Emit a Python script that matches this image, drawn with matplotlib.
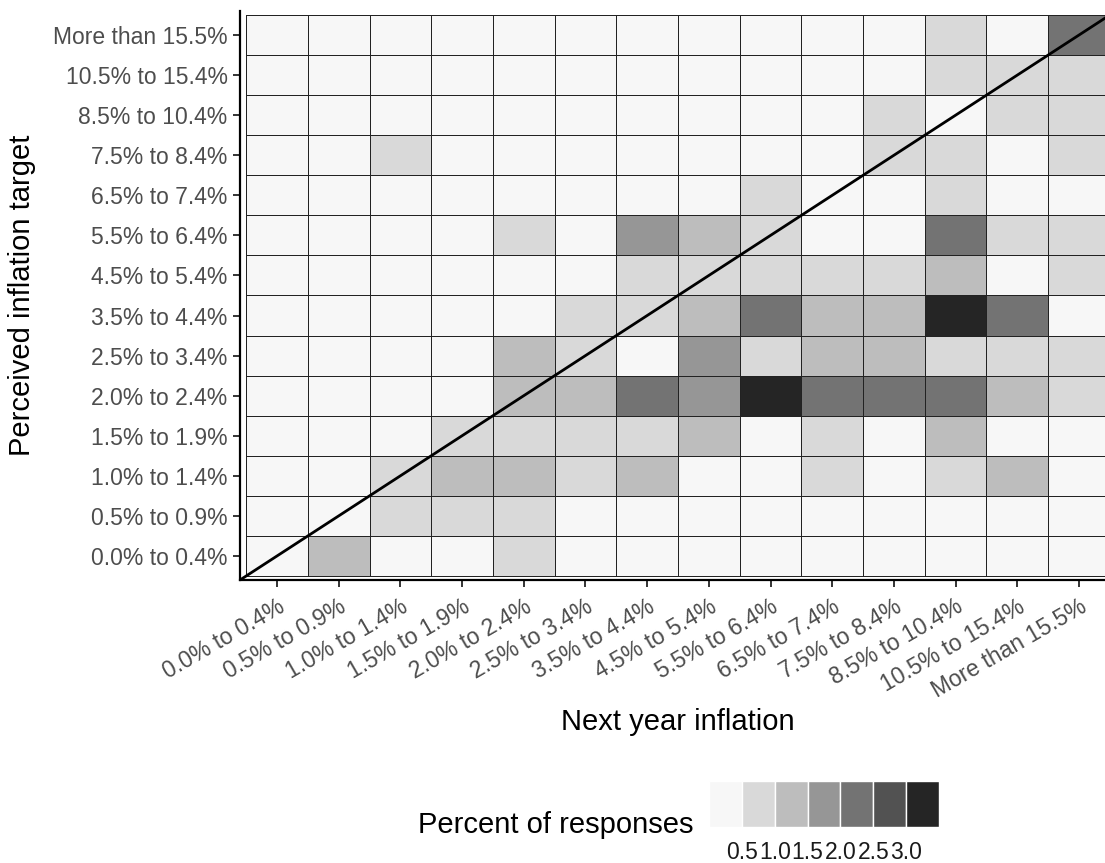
import numpy as np
import matplotlib
matplotlib.use("Agg")
import matplotlib.pyplot as plt
from matplotlib.colors import ListedColormap, BoundaryNorm

plt.rcParams['font.family'] = ['Liberation Sans', 'DejaVu Sans']

bins = ["0.0% to 0.4%", "0.5% to 0.9%", "1.0% to 1.4%", "1.5% to 1.9%",
        "2.0% to 2.4%", "2.5% to 3.4%", "3.5% to 4.4%", "4.5% to 5.4%",
        "5.5% to 6.4%", "6.5% to 7.4%", "7.5% to 8.4%", "8.5% to 10.4%",
        "10.5% to 15.4%", "More than 15.5%"]

# percent of responses, rows = perceived target (bottom -> top), cols = next year inflation
pct = [
    [0.0, 1.2, 0.0, 0.0, 0.7, 0.0, 0.0, 0.0, 0.0, 0.0, 0.0, 0.0, 0.0, 0.0],  # 0.0-0.4
    [0.0, 0.0, 0.7, 0.7, 0.7, 0.0, 0.0, 0.0, 0.0, 0.0, 0.0, 0.0, 0.0, 0.0],  # 0.5-0.9
    [0.0, 0.0, 0.7, 1.2, 1.2, 0.7, 1.2, 0.0, 0.0, 0.7, 0.0, 0.7, 1.2, 0.0],  # 1.0-1.4
    [0.0, 0.0, 0.0, 0.7, 0.7, 0.7, 0.7, 1.2, 0.0, 0.7, 0.0, 1.2, 0.0, 0.0],  # 1.5-1.9
    [0.0, 0.0, 0.0, 0.0, 1.2, 1.2, 2.2, 1.7, 3.2, 2.2, 2.2, 2.2, 1.2, 0.7],  # 2.0-2.4
    [0.0, 0.0, 0.0, 0.0, 1.2, 0.7, 0.0, 1.7, 0.7, 1.2, 1.2, 0.7, 0.7, 0.7],  # 2.5-3.4
    [0.0, 0.0, 0.0, 0.0, 0.0, 0.7, 0.7, 1.2, 2.2, 1.2, 1.2, 3.2, 2.2, 0.0],  # 3.5-4.4
    [0.0, 0.0, 0.0, 0.0, 0.0, 0.0, 0.7, 0.7, 0.7, 0.7, 0.7, 1.2, 0.0, 0.7],  # 4.5-5.4
    [0.0, 0.0, 0.0, 0.0, 0.7, 0.0, 1.7, 1.2, 0.7, 0.0, 0.0, 2.2, 0.7, 0.7],  # 5.5-6.4
    [0.0, 0.0, 0.0, 0.0, 0.0, 0.0, 0.0, 0.0, 0.7, 0.0, 0.0, 0.7, 0.0, 0.0],  # 6.5-7.4
    [0.0, 0.0, 0.7, 0.0, 0.0, 0.0, 0.0, 0.0, 0.0, 0.0, 0.7, 0.7, 0.0, 0.7],  # 7.5-8.4
    [0.0, 0.0, 0.0, 0.0, 0.0, 0.0, 0.0, 0.0, 0.0, 0.0, 0.7, 0.0, 0.7, 0.7],  # 8.5-10.4
    [0.0, 0.0, 0.0, 0.0, 0.0, 0.0, 0.0, 0.0, 0.0, 0.0, 0.0, 0.7, 0.7, 0.7],  # 10.5-15.4
    [0.0, 0.0, 0.0, 0.0, 0.0, 0.0, 0.0, 0.0, 0.0, 0.0, 0.0, 0.7, 0.0, 2.2],  # >15.5
]

breaks = [0, 0.5, 1.0, 1.5, 2.0, 2.5, 3.0, 3.5]
greys = ["#f7f7f7", "#d9d9d9", "#bdbdbd", "#969696", "#737373", "#525252", "#252525"]

cmap = ListedColormap(greys)
norm = BoundaryNorm(breaks, cmap.N, clip=True)

W, H = 1105, 863
fig = plt.figure(figsize=(W / 100, H / 100), dpi=100)
ax = fig.add_axes([240 / W, 1 - 580 / H, 876 / W, 569 / H])

n = len(bins)
edges = np.arange(n + 1) + 0.5
ax.pcolormesh(edges, edges, np.array(pct), cmap=cmap, norm=norm,
              edgecolors="#222222", linewidth=0.5)
ax.axline((0, 0), (1, 1), color="black", lw=2)

ax.set_xlim(0.4, n + 0.6)
ax.set_ylim(0.4, n + 0.6)
pos = np.arange(1, n + 1)
ax.set_xticks(pos)
ax.set_yticks(pos)
ax.set_xticklabels(bins, rotation=30, ha="right", rotation_mode="anchor")
ax.set_yticklabels(bins)
ax.tick_params(labelsize=16.5, labelcolor="#4d4d4d", color="#333333",
               width=1.4, length=5, pad=4)
ax.tick_params(axis="x", pad=6)
for s in ["top", "right"]:
    ax.spines[s].set_visible(False)
for s in ["left", "bottom"]:
    ax.spines[s].set_linewidth(1.6)
    ax.spines[s].set_color("black")

fig.text(22 / W, 1 - 295 / H, "Perceived inflation target", rotation=90,
         ha="center", va="center", fontsize=21)
fig.text(678 / W, 1 - 730 / H, "Next year inflation", ha="center",
         va="baseline", fontsize=21)

# legend (binned colour key)
lax = fig.add_axes([709 / W, 1 - 827 / H, 230 / W, 46 / H])
centers = [(breaks[i] + breaks[i + 1]) / 2 for i in range(len(greys))]
lax.bar(centers, [1] * len(centers), width=0.5,
        color=[cmap(norm(c)) for c in centers], edgecolor="white", linewidth=1)
lax.set_xlim(breaks[0], breaks[-1])
lax.set_ylim(0, 1)
lax.set_yticks([])
lax.set_xticks(breaks[1:-1])
lax.set_xticklabels([f"{b:.1f}" for b in breaks[1:-1]])
lax.tick_params(length=0, labelsize=16.5, labelcolor="#1a1a1a", pad=10)
for s in lax.spines.values():
    s.set_visible(False)
fig.text(693 / W, 1 - 833 / H, "Percent of responses", ha="right",
         va="baseline", fontsize=21)

fig.savefig("out.png", dpi=100)
